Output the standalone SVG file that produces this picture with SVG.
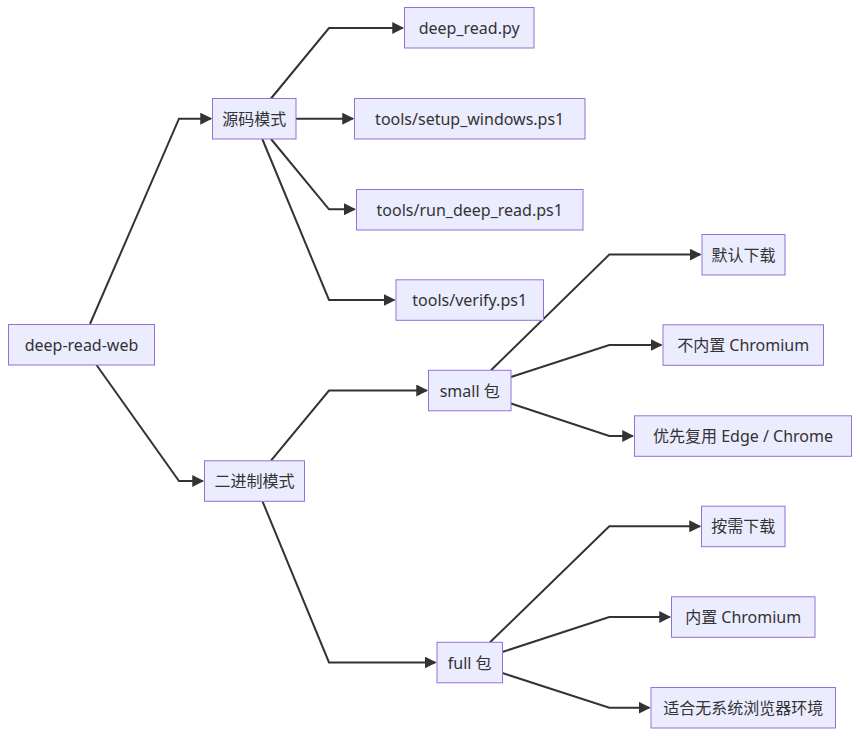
<svg xmlns="http://www.w3.org/2000/svg" width="860" height="736" viewBox="0 0 860 736">
<style>
.node rect{fill:#ECECFF;stroke:#9370DB;stroke-width:1}
.node text{fill:#333333;font-family:"Noto Sans","Noto Sans CJK SC",sans-serif;font-size:16px;text-anchor:middle;dominant-baseline:central}
.edges path{fill:none;stroke:#333333;stroke-width:2}
</style>
<defs>
<marker id="arrow" viewBox="0 0 10 10" markerUnits="userSpaceOnUse" markerWidth="12" markerHeight="12" refX="8.8" refY="5" orient="auto">
<path d="M0,0 L10,5 L0,10 z" fill="#333333"/>
</marker>
</defs>
<rect width="860" height="736" fill="#ffffff"/>
<g class="edges" marker-end="url(#arrow)">
<path d="M90,324 L179,118.7 L210.8,118.7" marker-end="url(#arrow)"/>
<path d="M96.5,365 L179,481 L202.8,481" marker-end="url(#arrow)"/>
<path d="M271,98.5 L329,28 L402.8,28" marker-end="url(#arrow)"/>
<path d="M296,118.7 L352.8,118.7" marker-end="url(#arrow)"/>
<path d="M271,139 L329,209.3 L354.5,209.3" marker-end="url(#arrow)"/>
<path d="M262.3,139 L329,300 L394.2,300" marker-end="url(#arrow)"/>
<path d="M271,460.7 L329,390.5 L426.8,390.5" marker-end="url(#arrow)"/>
<path d="M262.5,501.3 L329,662.5 L435.2,662.5" marker-end="url(#arrow)"/>
<path d="M491,370.2 L609.3,254.6 L700.2,254.6" marker-end="url(#arrow)"/>
<path d="M511,377 L609.3,345 L661.2,345" marker-end="url(#arrow)"/>
<path d="M511,403.5 L609.3,436 L632.8,436" marker-end="url(#arrow)"/>
<path d="M490,642.3 L609.3,526.3 L699.8,526.3" marker-end="url(#arrow)"/>
<path d="M502.3,652 L609.3,617 L669.8,617" marker-end="url(#arrow)"/>
<path d="M502.3,673 L609.3,707.7 L649.2,707.7" marker-end="url(#arrow)"/>
</g>
<g id="n-root" class="node"><rect x="8.5" y="324.5" width="146" height="40.5"/><text x="81.5" y="344.7">deep-read-web</text></g>
<g id="n-src" class="node"><rect x="212.5" y="98.5" width="83.5" height="40.5"/><text x="254.2" y="118.7">源码模式</text></g>
<g id="n-deepread" class="node"><rect x="404.5" y="7.5" width="129.5" height="40.5"/><text x="469.2" y="27.8">deep_read.py</text></g>
<g id="n-setup" class="node"><rect x="354.5" y="98.5" width="230.5" height="40.5"/><text x="469.7" y="118.7">tools/setup_windows.ps1</text></g>
<g id="n-run" class="node"><rect x="356.5" y="189.5" width="226.5" height="40.5"/><text x="469.7" y="209.5">tools/run_deep_read.ps1</text></g>
<g id="n-verify" class="node"><rect x="396" y="279.8" width="147.5" height="40.5"/><text x="469.7" y="300">tools/verify.ps1</text></g>
<g id="n-bin" class="node"><rect x="204.5" y="460.8" width="100" height="40.5"/><text x="254.5" y="481">二进制模式</text></g>
<g id="n-small" class="node"><rect x="428.5" y="370.3" width="82.5" height="40.5"/><text x="469.7" y="390.5">small 包</text></g>
<g id="n-full" class="node"><rect x="437" y="642.3" width="65.5" height="40.5"/><text x="469.7" y="662.5">full 包</text></g>
<g id="n-default" class="node"><rect x="702" y="234.5" width="83" height="40.5"/><text x="743.5" y="254.7">默认下载</text></g>
<g id="n-nochrome" class="node"><rect x="663" y="324.8" width="160.5" height="40.5"/><text x="743.2" y="345">不内置 Chromium</text></g>
<g id="n-reuse" class="node"><rect x="634.5" y="415.8" width="217" height="40.5"/><text x="743" y="436">优先复用 Edge / Chrome</text></g>
<g id="n-ondemand" class="node"><rect x="701.5" y="506.2" width="83.5" height="40.5"/><text x="743.2" y="526.4">按需下载</text></g>
<g id="n-builtin" class="node"><rect x="671.5" y="596.8" width="143.5" height="40.5"/><text x="743.2" y="617">内置 Chromium</text></g>
<g id="n-nobrowser" class="node"><rect x="651" y="687.5" width="184.5" height="40.5"/><text x="743.2" y="707.7">适合无系统浏览器环境</text></g>
</svg>
